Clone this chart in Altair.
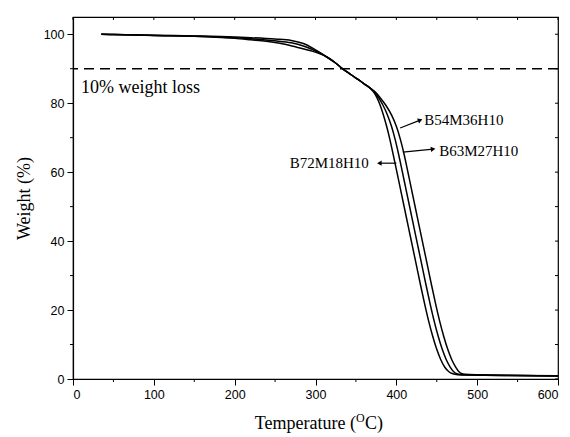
import altair as alt
import pandas as pd

# ---- data ----
temp_B72 = [35, 50, 100, 150, 200, 220, 250, 270, 285, 297, 314, 324, 334, 342, 350, 358, 364, 368, 372, 376, 380, 384, 388, 392, 396, 400, 405, 410, 415, 420, 425, 430, 435, 440, 445, 450, 455, 460, 465, 470, 476, 490, 550, 600]
wt_B72 = [100.0, 99.9, 99.7, 99.5, 99.2, 99.0, 98.6, 98.2, 97.3, 95.9, 93.4, 91.8, 89.9, 88.6, 87.3, 86.0, 85.0, 84.3, 83.2, 81.6, 79.4, 76.6, 73.3, 69.5, 65.2, 60.8, 55.2, 49.6, 44.0, 38.4, 32.8, 27.2, 21.8, 16.8, 12.4, 8.6, 5.6, 3.4, 2.1, 1.5, 1.25, 1.15, 1.0, 0.9]

temp_B63 = [35, 50, 100, 150, 200, 220, 250, 270, 285, 297, 314, 324, 334, 342, 350, 358, 364, 368, 373, 378, 383.5, 389, 394, 398.5, 402.8, 406.8, 411.8, 416.8, 421.8, 426.8, 431.8, 436.8, 441.8, 446.8, 451.8, 456.8, 461.8, 466.8, 471, 475, 480, 495, 550, 600]
wt_B63 = [100.0, 99.9, 99.65, 99.45, 99.0, 98.7, 98.1, 97.5, 96.6, 95.5, 93.4, 91.8, 89.9, 88.6, 87.3, 86.0, 85.0, 84.3, 83.2, 81.6, 79.4, 76.6, 73.3, 69.5, 65.2, 60.8, 55.2, 49.6, 44.0, 38.4, 32.8, 27.2, 21.8, 16.8, 12.4, 8.6, 5.6, 3.4, 2.1, 1.5, 1.3, 1.15, 1.0, 0.9]

temp_B54 = [35, 50, 100, 150, 200, 220, 239, 256, 276, 293, 314, 324, 334, 342, 350, 358, 364, 368, 374, 380, 387, 394, 400, 405, 409.6, 413.6, 418.6, 423.6, 428.6, 433.6, 438.6, 443.6, 448.6, 453.6, 458.6, 463.6, 468.6, 473.6, 477.5, 480.5, 485, 500, 550, 600]
wt_B54 = [100.0, 99.9, 99.6, 99.4, 98.8, 98.4, 98.0, 97.4, 96.3, 95.3, 93.4, 91.8, 89.9, 88.6, 87.3, 86.0, 85.0, 84.3, 83.2, 81.6, 79.4, 76.6, 73.3, 69.5, 65.2, 60.8, 55.2, 49.6, 44.0, 38.4, 32.8, 27.2, 21.8, 16.8, 12.4, 8.6, 5.6, 3.4, 2.1, 1.6, 1.35, 1.2, 1.05, 0.95]

threshold = [90]
threshold_label = ["10% weight loss"]

label_names = ["B54M36H10", "B63M27H10", "B72M18H10"]
arrow_start_T = [404.7, 408.0, 400.0]
arrow_start_W = [72.8, 65.8, 62.6]
arrow_end_T = [429.5, 445.5, 379.0]
arrow_end_W = [75.1, 66.7, 62.6]
label_T = [434.5, 453.0, 366.0]
label_W = [75.1, 66.1, 62.6]
arrow_angle = [338, 354, 180]

x_major = list(range(0, 601, 100))
x_minor = list(range(50, 600, 100))
y_major = list(range(0, 101, 20))
y_minor = list(range(10, 100, 20))
x_all = list(range(0, 601, 50))
y_all = list(range(0, 101, 10))

# ---- tables ----
rows = []
for name, ts, ws in [("B72M18H10", temp_B72, wt_B72), ("B63M27H10", temp_B63, wt_B63), ("B54M36H10", temp_B54, wt_B54)]:
    for t, w in zip(ts, ws):
        rows.append({"series": name, "T": t, "W": w})
curves_df = pd.DataFrame(rows)

ann_df = pd.DataFrame({
    "label": label_names,
    "T1": arrow_start_T, "W1": arrow_start_W,
    "T2": arrow_end_T, "W2": arrow_end_W,
    "LT": label_T, "LW": label_W,
    "ang": arrow_angle,
})
left_ann = ann_df[ann_df["label"] != "B72M18H10"]
right_ann = ann_df[ann_df["label"] == "B72M18H10"]

W_PX, H_PX = 485, 362
SERIF = "Liberation Serif"
SANS = "Liberation Sans"

xscale = alt.Scale(domain=[0, 600], nice=False, zero=False)
yscale = alt.Scale(domain=[0, 105], nice=False, zero=False)

x_axis = alt.Axis(values=x_major, tickSize=6, title=None, grid=False, labelPadding=3)
y_axis = alt.Axis(values=y_major, tickSize=6, title="Weight (%)", grid=False, labelPadding=3, titlePadding=10)

curves = alt.Chart(curves_df).mark_line(color="black", strokeWidth=1.5, interpolate="monotone").encode(
    x=alt.X("T:Q", scale=xscale, axis=x_axis),
    y=alt.Y("W:Q", scale=yscale, axis=y_axis),
    detail="series:N",
)

hline = alt.Chart(pd.DataFrame({"W": threshold})).mark_rule(
    color="black", strokeWidth=1.5, strokeDash=[10, 6]
).encode(y="W:Q")

thr_text = alt.Chart(pd.DataFrame({"T": [10], "W": [84.3], "txt": threshold_label})).mark_text(
    font=SERIF, fontSize=18, align="left", baseline="middle", color="black"
).encode(x="T:Q", y="W:Q", text="txt:N")

arrows = alt.Chart(ann_df).mark_rule(color="black", strokeWidth=1.2).encode(
    x="T1:Q", y="W1:Q", x2="T2:Q", y2="W2:Q"
)
heads = alt.Chart(ann_df).mark_point(
    shape="triangle-right", filled=True, color="black", size=28, opacity=1
).encode(
    x="T2:Q", y="W2:Q", angle=alt.Angle("ang:Q", scale=None)
)
lbl_left = alt.Chart(left_ann).mark_text(
    font=SERIF, fontSize=15, align="left", baseline="middle", color="black"
).encode(x="LT:Q", y="LW:Q", text="label:N")
lbl_right = alt.Chart(right_ann).mark_text(
    font=SERIF, fontSize=15, align="right", baseline="middle", color="black"
).encode(x="LT:Q", y="LW:Q", text="label:N")

# minor outward ticks (bottom, left) and inward mirror ticks (top, right)
bottom_minor = alt.Chart(pd.DataFrame({"T": x_minor})).mark_rule(color="black", strokeWidth=1).encode(
    x="T:Q", y=alt.value(H_PX), y2=alt.value(H_PX + 3)
)
left_minor = alt.Chart(pd.DataFrame({"W": y_minor})).mark_rule(color="black", strokeWidth=1).encode(
    y="W:Q", x=alt.value(-3), x2=alt.value(0)
)
top_ticks = alt.Chart(pd.DataFrame({"T": x_all})).mark_rule(color="black", strokeWidth=1).encode(
    x="T:Q", y=alt.value(0), y2=alt.value(3)
)
right_ticks = alt.Chart(pd.DataFrame({"W": y_all})).mark_rule(color="black", strokeWidth=1).encode(
    y="W:Q", x=alt.value(W_PX - 3), x2=alt.value(W_PX)
)

one = pd.DataFrame({"a": [0]})
xt1 = alt.Chart(one).mark_text(font=SERIF, fontSize=18, align="right", baseline="alphabetic", color="black", text="Temperature (").encode(
    x=alt.value(283), y=alt.value(412))
xt2 = alt.Chart(one).mark_text(font=SERIF, fontSize=12, align="left", baseline="alphabetic", color="black", text="O").encode(
    x=alt.value(283), y=alt.value(405))
xt3 = alt.Chart(one).mark_text(font=SERIF, fontSize=18, align="left", baseline="alphabetic", color="black", text="C)").encode(
    x=alt.value(292), y=alt.value(412))

chart = alt.layer(
    curves, hline, thr_text, arrows, heads, lbl_left, lbl_right,
    bottom_minor, left_minor, top_ticks, right_ticks, xt1, xt2, xt3
).properties(
    width=W_PX, height=H_PX,
    autosize=alt.AutoSizeParams(type="none"),
    padding={"left": 65, "top": 9, "right": 4, "bottom": 58},
).configure_view(
    stroke="black", strokeWidth=1.2
).configure_axis(
    labelFont=SANS, labelFontSize=12.5, labelColor="black",
    titleFont=SERIF, titleFontSize=18, titleFontWeight="normal", titleColor="black",
    domainColor="black", domainWidth=1.2, tickColor="black", tickWidth=1,
)

chart.save("out.html", embed_options={"renderer": "svg", "actions": False})
